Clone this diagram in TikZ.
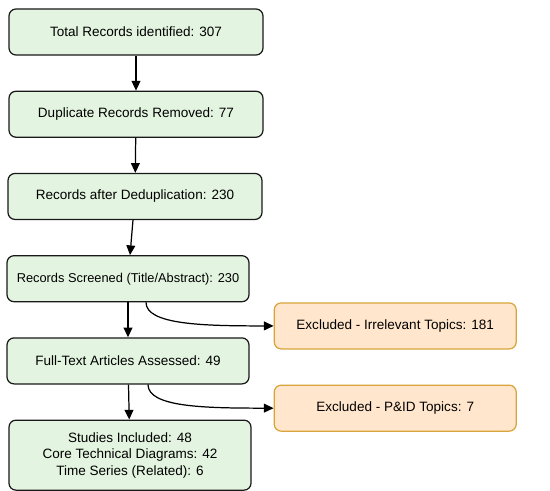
\documentclass[tikz,border=0pt]{standalone}
\usepackage{fontspec}
\setmainfont{Liberation Sans}
\usepackage{xcolor}
\usetikzlibrary{arrows.meta, positioning}

\definecolor{stepgreen}{HTML}{E3F5E0}
\definecolor{exclfill}{HTML}{FFE6CC}
\definecolor{excldraw}{HTML}{D9A43A}

\begin{document}
\begin{tikzpicture}[
    node distance=0.7cm,
    font=\fontsize{7.7}{9.4}\selectfont,
    stepbox/.style={rectangle, rounded corners=0.14cm, draw=black!90, line width=0.7pt, minimum width=5.08cm, minimum height=0.92cm, inner xsep=2pt, align=center, fill=stepgreen},
    exclbox/.style={rectangle, rounded corners=0.14cm, draw=excldraw, line width=0.7pt, minimum width=4.84cm, minimum height=0.92cm, align=center, fill=exclfill},
    arrow/.style={->, >={Triangle[length=5.5pt,width=5pt]}, line width=0.7pt}
]
\useasboundingbox (0,0) rectangle (11,-9.82);

\node (total) [stepbox] at (2.72,-0.64) {Total Records identified: 307};
\node (dup) [stepbox, below=of total] {Duplicate Records Removed: 77};
\node (dedup) [stepbox, below=of dup, xshift=-0.02cm] {Records after Deduplication: 230};
\node (screen) [stepbox, minimum width=4.84cm, below=of dedup, xshift=-0.14cm, font=\fontsize{7.3}{9.4}\selectfont] {Records Screened (Title/Abstract): 230};
\node (full) [stepbox, minimum width=4.84cm, below=of screen] {Full-Text Articles Assessed: 49};
\node (incl) [stepbox, minimum width=4.84cm, minimum height=1.4cm, below=of full, xshift=0.04cm] {Studies Included: 48\\Core Technical Diagrams: 42\\Time Series (Related): 6};

\node (excl1) [exclbox, anchor=north west] at ([xshift=0.48cm]screen.south east) {Excluded - Irrelevant Topics: 181};
\node (excl2) [exclbox, anchor=north west] at ([xshift=0.48cm]full.south east) {Excluded - P\&ID Topics: 7};

\draw [arrow] (total) -- (dup);
\draw [arrow] (dup) -- (dedup);
\draw [arrow] (dedup) -- (screen);
\draw [arrow] (screen) -- (full);
\draw [arrow] (full) -- (incl);

\draw [arrow] ([xshift=0.36cm]screen.south) .. controls +(0,-0.45) and +(-1.4,0) .. (excl1.west);
\draw [arrow] ([xshift=0.4cm]full.south) .. controls +(0,-0.45) and +(-1.4,0) .. (excl2.west);
\end{tikzpicture}
\end{document}
